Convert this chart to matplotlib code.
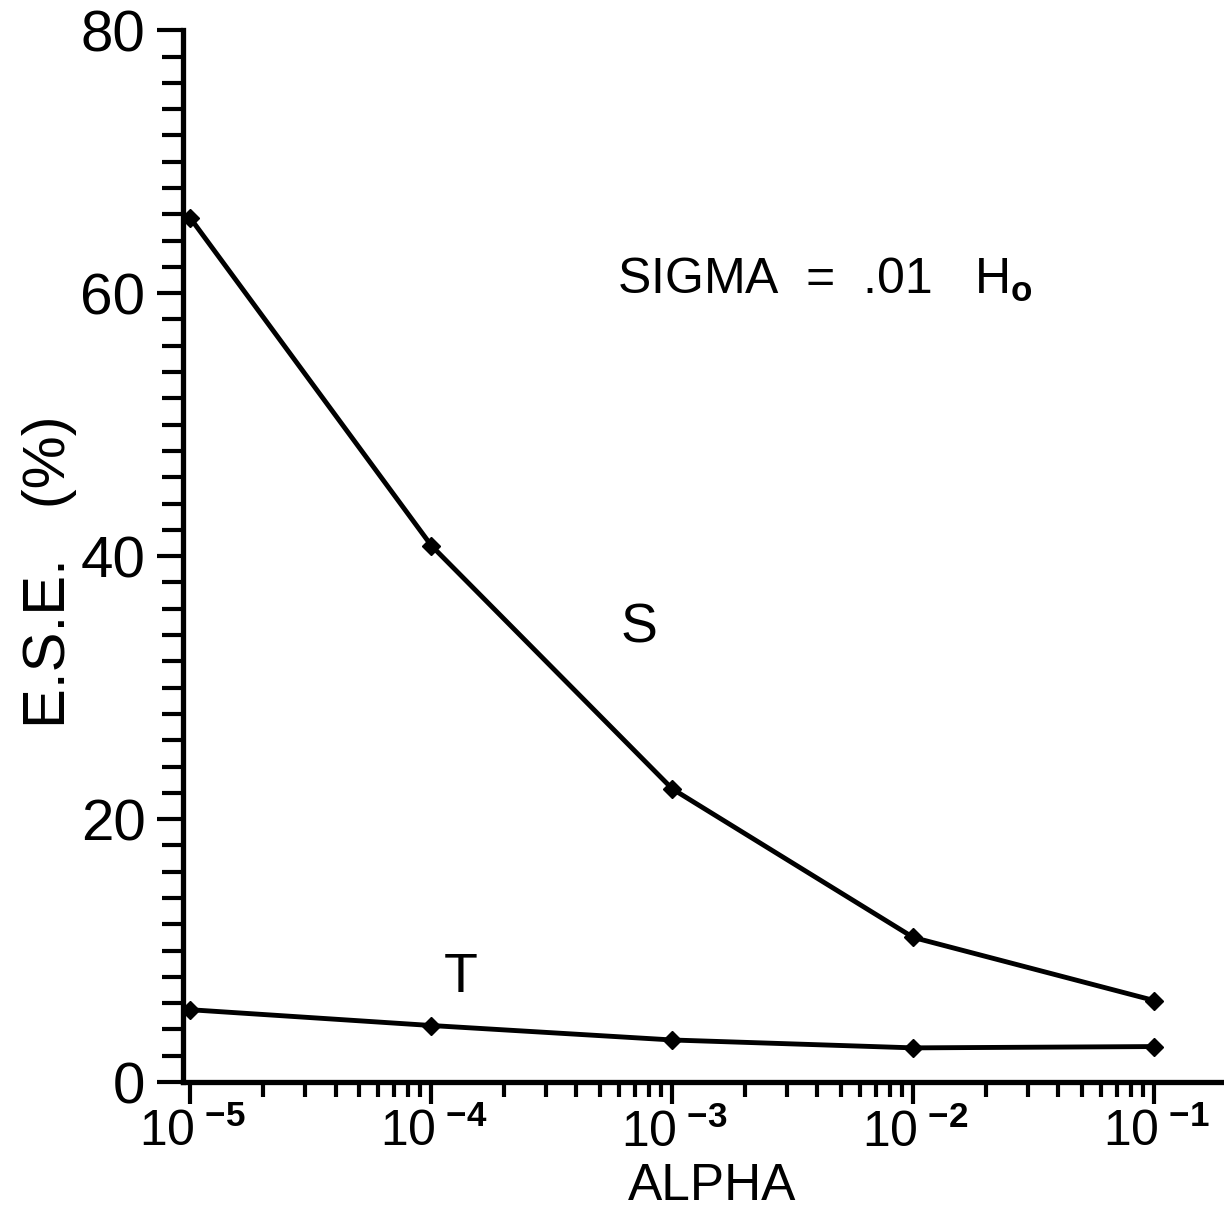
import matplotlib
matplotlib.use("Agg")
import matplotlib.pyplot as plt
from matplotlib.ticker import FixedLocator, LogLocator, NullFormatter, MultipleLocator
from matplotlib.transforms import ScaledTranslation

plt.rcParams['font.family'] = ['Liberation Sans', 'DejaVu Sans']
plt.rcParams['mathtext.fontset'] = 'custom'
plt.rcParams['mathtext.rm'] = 'Liberation Sans'
plt.rcParams['mathtext.it'] = 'Liberation Sans'
plt.rcParams['mathtext.bf'] = 'Liberation Sans:bold'

alpha = [1e-5, 1e-4, 1e-3, 1e-2, 1e-1]
ese_S = [65.7, 40.8, 22.3, 11.0, 6.2]
ese_T = [5.5, 4.3, 3.2, 2.6, 2.7]
x_tick_vals = [1e-5, 1e-4, 1e-3, 1e-2, 1e-1]
x_tick_labels = ['10$^{\\ \\mathbf{-5}}$', '10$^{\\ \\mathbf{-4}}$', '10$^{\\ \\mathbf{-3}}$',
                 '10$^{\\ \\mathbf{-2}}$', '10$^{\\ \\mathbf{-1}}$']
y_tick_vals = [0, 20, 40, 60, 80]

fig = plt.figure(figsize=(12.24, 12.09), dpi=100)
ax = fig.add_axes([0.1495, 0.105, 0.8505, 0.870])

ax.plot(alpha, ese_S, color='black', lw=3.5, marker='D', ms=9, zorder=3)
ax.plot(alpha, ese_T, color='black', lw=3.5, marker='D', ms=9, zorder=3)

ax.set_xscale('log')
ax.set_xlim(10 ** -5.031, 10 ** -0.71)
ax.set_ylim(0, 80)

for s in ['top', 'right']:
    ax.spines[s].set_visible(False)
for s in ['left', 'bottom']:
    ax.spines[s].set_linewidth(3.8)

ax.xaxis.set_major_locator(FixedLocator(x_tick_vals))
ax.set_xticklabels(x_tick_labels, fontsize=36)
ax.xaxis.set_minor_locator(LogLocator(base=10, subs=[2, 3, 4, 5, 6, 7, 8, 9], numticks=20))
ax.xaxis.set_minor_formatter(NullFormatter())
ax.yaxis.set_major_locator(FixedLocator(y_tick_vals))
ax.yaxis.set_minor_locator(MultipleLocator(2))
ax.set_yticklabels([str(v) for v in y_tick_vals], fontsize=42)

ax.tick_params(axis='x', which='major', direction='out', length=16, width=3, pad=3)
ax.tick_params(axis='x', which='minor', direction='out', length=11, width=3)
ax.tick_params(axis='y', which='major', direction='out', length=19, width=3, pad=8)
ax.tick_params(axis='y', which='minor', direction='out', length=15, width=3)

shift = ScaledTranslation(-0.51, 0, fig.dpi_scale_trans)
for lbl in ax.get_xticklabels():
    lbl.set_horizontalalignment('left')
    lbl.set_transform(lbl.get_transform() + shift)

ax.set_xlabel('ALPHA', fontsize=37)
ax.xaxis.set_label_coords(0.508, -0.076)
ax.set_ylabel('E.S.E.   (%)', fontsize=43)
ax.yaxis.set_label_coords(-0.102, 0.485)

ax.text(10 ** -3.23, 61, 'SIGMA  =  .01   H$_\\mathbf{o}$', fontsize=36, ha='left', va='center')
ax.text(10 ** -3.14, 34.5, 'S', fontsize=40, ha='center', va='center')
ax.text(10 ** -3.88, 7.9, 'T', fontsize=40, ha='center', va='center')

fig.savefig('out.png', dpi=100, facecolor='white')
